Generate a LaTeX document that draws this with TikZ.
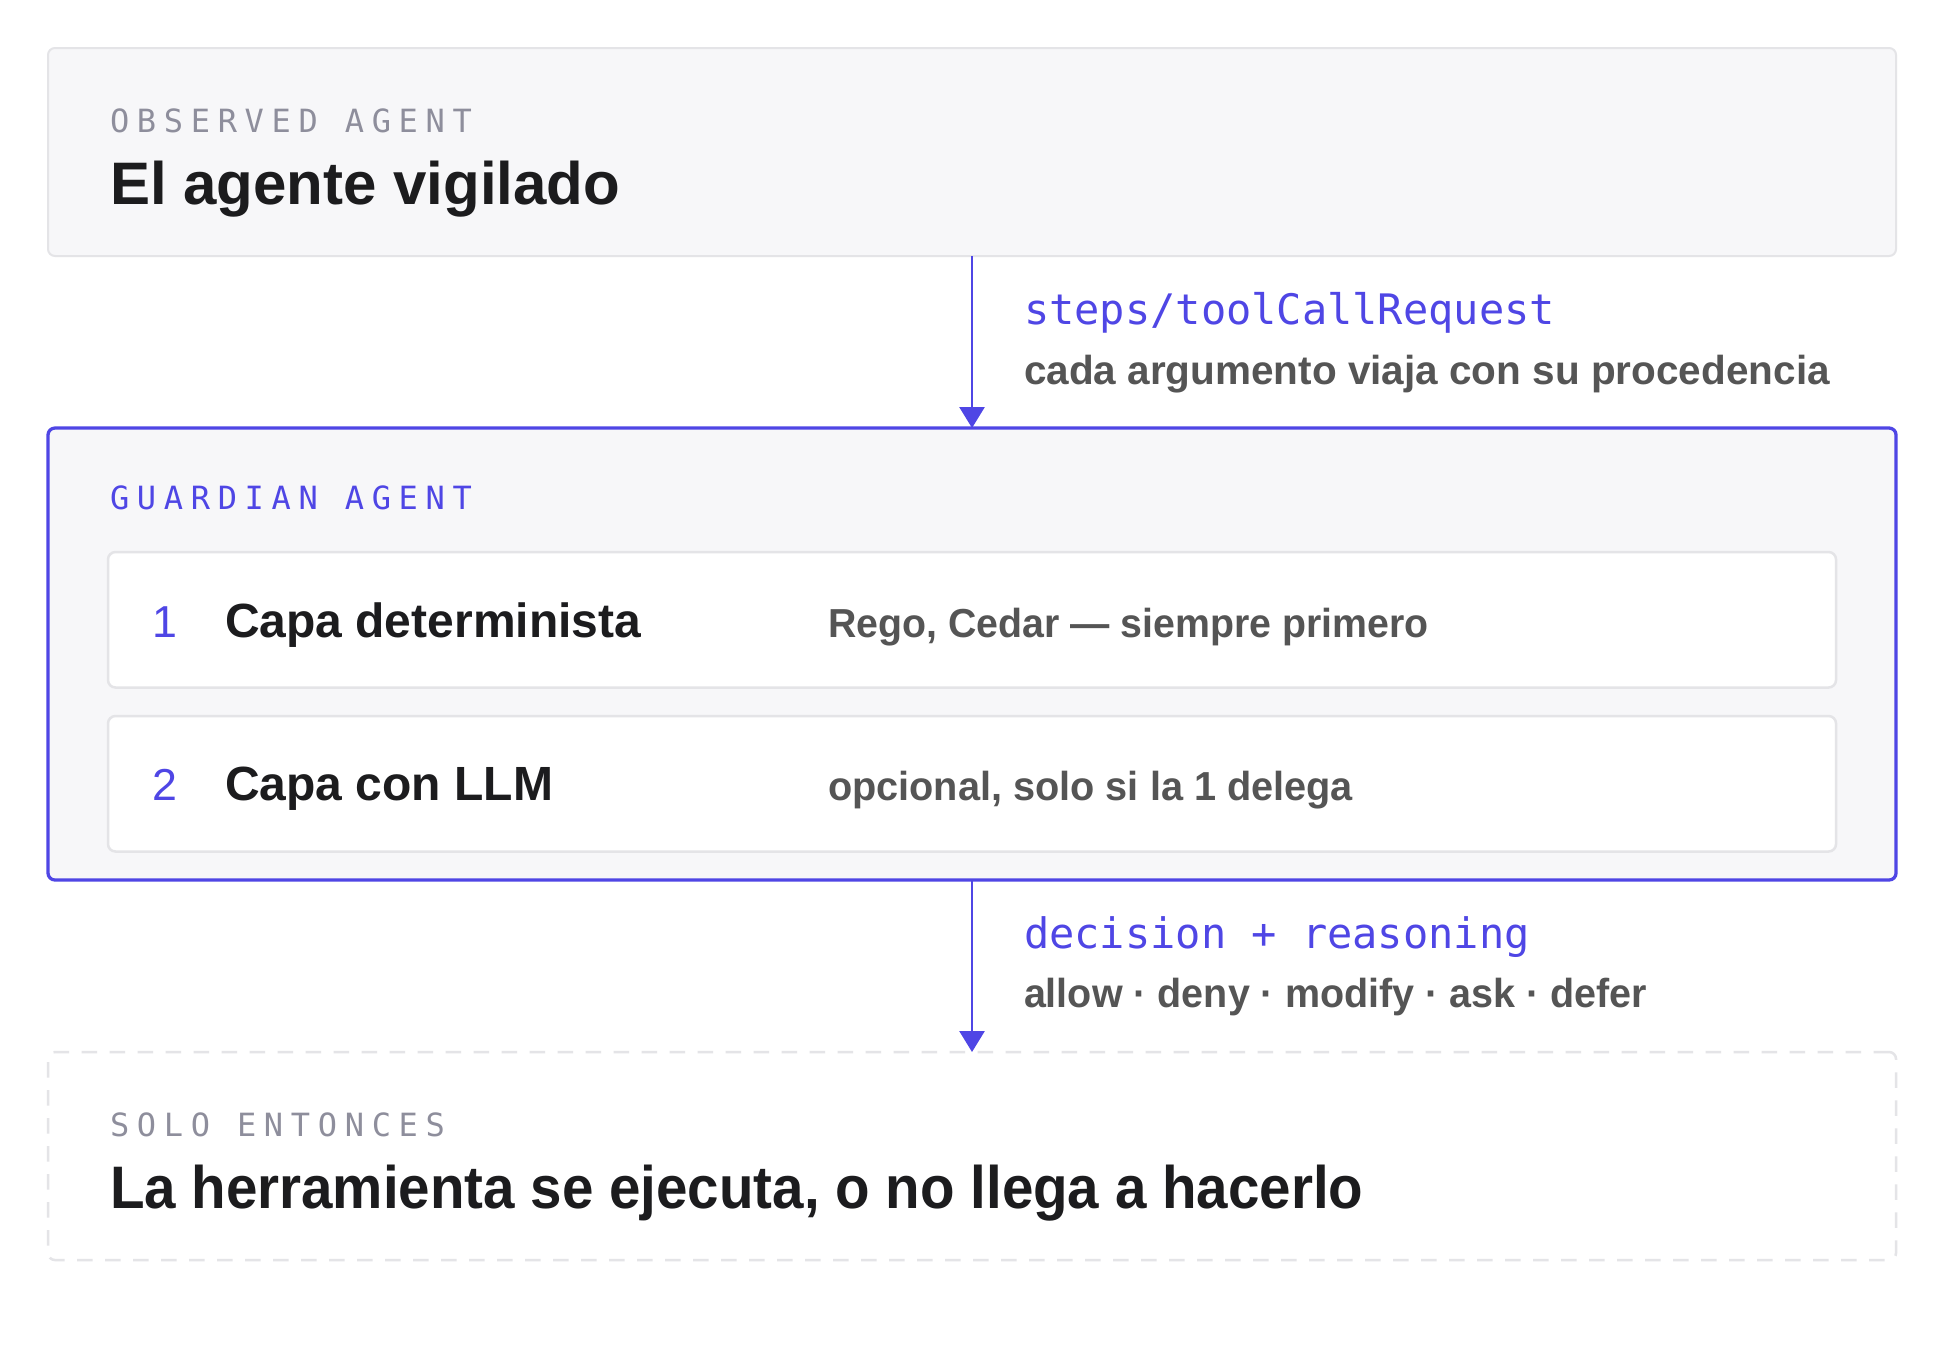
\documentclass[tikz,border=0pt]{standalone}
\usepackage{fontspec}
\setmainfont{Liberation Sans}
\newfontfamily\codefont{DejaVu Sans Mono}
\newfontfamily\lblfont[LetterSpace=24]{DejaVu Sans Mono}
\usetikzlibrary{arrows.meta}
\definecolor{indig}{HTML}{4F46E5}
\definecolor{ink}{HTML}{1C1C1E}
\definecolor{graytxt}{HTML}{555555}
\definecolor{lblgray}{HTML}{8E8E9C}
\definecolor{boxfill}{HTML}{F7F7F9}
\definecolor{boxline}{HTML}{E4E4E7}
\begin{document}
\begin{tikzpicture}[x=0.4pt,y=-0.4pt,
  txt/.style={inner sep=0pt, outer sep=0pt, anchor=base west},
  ttl/.style={txt, font=\fontsize{24}{28}\selectfont\bfseries, text=ink},
  sub/.style={txt, font=\fontsize{19.2}{23}\selectfont\bfseries, text=ink},
  note/.style={txt, font=\fontsize{16.2}{20}\selectfont\bfseries, text=graytxt},
  code/.style={txt, font=\codefont\fontsize{16.8}{20}\selectfont, text=indig},
  lbl/.style={txt, font=\lblfont\fontsize{12.8}{16}\selectfont, text=lblgray},
  num/.style={txt, font=\fontsize{17.9}{22}\selectfont, text=indig},
  bigbox/.style={rectangle, anchor=north west, inner sep=0pt, outer sep=0pt, minimum width=739.2pt, rounded corners=2.8pt},
  obsbox/.style={bigbox, fill=boxfill, draw=boxline, line width=0.8pt, minimum height=83.2pt},
  guardbox/.style={bigbox, fill=boxfill, draw=indig, line width=1.3pt, minimum height=180.8pt},
  endbox/.style={bigbox, fill=white, draw=boxline, line width=1pt, dash pattern=on 6.2pt off 5pt, minimum height=83.2pt},
  layerbox/.style={rectangle, anchor=north west, inner sep=0pt, outer sep=0pt, minimum width=691.2pt, minimum height=54.2pt, rounded corners=3pt, fill=white, draw=boxline, line width=1pt},
  flow/.style={draw=indig, line width=1.08pt, -{Triangle[length=8.4pt, width=10pt]}}
]
\useasboundingbox (0,0) rectangle (1944,1368);
\fill[white] (0,0) rectangle (1944,1368);

% observed agent
\node[obsbox] (obs) at (48,48) {};
\node[lbl] (obslbl) at (110,132) {OBSERVED AGENT};
\node[ttl] (obsttl) at (110,204) {El agente vigilado};

% guardian agent
\node[guardbox] (guard) at (48,428) {};
\node[lbl, text=indig] (guardlbl) at (110,509) {GUARDIAN AGENT};
\node[layerbox] (layer1) at (108,552) {};
\node[layerbox] (layer2) at (108,716) {};
\node[num] (n1) at (152,637) {1};
\node[sub] (l1) at (225,637) {Capa determinista};
\node[note] (d1) at (828,637) {\scalebox{0.97}[1]{Rego, Cedar — siempre primero}};
\node[num] (n2) at (152,800) {2};
\node[sub] (l2) at (225,800) {Capa con LLM};
\node[note] (d2) at (828,800) {\scalebox{0.98}[1]{opcional, solo si la 1 delega}};

% result
\node[endbox] (result) at (48,1052) {};
\node[lbl] (reslbl) at (110,1136) {SOLO ENTONCES};
\node[ttl] (resttl) at (110,1208) {\scalebox{0.942}[1]{La herramienta se ejecuta, o no llega a hacerlo}};

% connectors
\draw[flow] (obs.south) -- (guard.north);
\draw[flow] (guard.south) -- (result.north);

\node[code] (c1) at (1024,324) {steps/toolCallRequest};
\node[note] (c1n) at (1024,384) {cada argumento viaja con su procedencia};
\node[code] (c2) at (1024,948) {decision + reasoning};
\node[note] (c2n) at (1024,1007) {\scalebox{0.975}[1]{allow · deny · modify · ask · defer}};
\end{tikzpicture}
\end{document}
